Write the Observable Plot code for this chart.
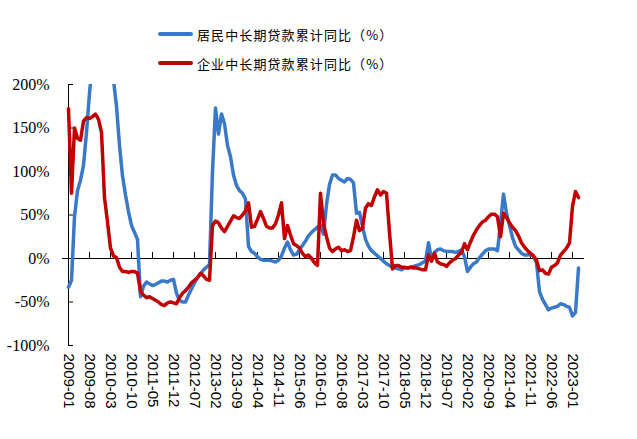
<!DOCTYPE html>
<html><head><meta charset="utf-8">
<script src="https://cdn.jsdelivr.net/npm/d3@7"></script>
<script src="https://cdn.jsdelivr.net/npm/@observablehq/plot@0.6"></script>
<style>
body{margin:0;background:#fff;}
#legend{position:relative;width:637px;height:75px;font-family:"Noto Sans CJK SC";font-size:13px;color:#000;}
.row{position:absolute;left:158px;display:flex;align-items:center;height:20px;letter-spacing:1.1px;}
.sw{width:35px;height:4px;border-radius:2px;margin-right:4px;}
#chart svg{display:block;}
</style></head><body>
<div id="legend"></div>
<div id="chart"></div>
<script>
const seriesNames = ["居民中长期贷款累计同比（%）", "企业中长期贷款累计同比（%）"];
const seriesColors = ["#3A78C8", "#C00000"];

// 2009-01 .. 2023-03, monthly, %
const household = [
-33,-25,48,78,90,107,145,190,225,260,290,300,300,280,250,205,175,130,95,73,
54,38,30,22,-44,-32,-27,-29,-31,-30,-28,-26,-26,-27,-25,-24,-40,-48,-50,-50,
-42,-35,-28,-22,-18,-13,-10,-7,100,173,143,166,155,130,117,96,84,78,75,68,
14,8,6,2,-1,-2,-2,-2,-3,-4,-2,3,12,19,10,4,5,10,15,20,
26,30,33,36,38,28,62,85,96,96,92,90,88,92,91,87,52,53,37,22,
14,9,6,3,0,-3,-6,-8,-10,-11,-12,-13,-11,-11,-10,-9,-8,-7,-5,-3,
18,-1,7,10,11,9,8,8,8,7,8,10,2,-15,-10,-6,-4,1,5,9,
11,11,11,9,40,74,52,38,24,14,10,6,4,4,5,3,-5,-38,-47,-53,
-59,-57,-56,-55,-52,-53,-55,-56,-66,-62,-11
];
const enterprise = [
172,75,150,138,136,158,162,161,163,166,160,145,70,42,12,3,1,-10,-15,-15,
-16,-15,-15,-17,-38,-42,-45,-44,-46,-48,-50,-53,-54,-51,-50,-51,-52,-45,-40,-37,
-33,-28,-25,-22,-17,-20,-24,-25,38,43,41,35,31,37,43,49,47,46,50,55,
64,36,37,45,54,46,37,35,35,40,50,64,23,38,27,17,15,12,6,2,
4,0,-5,-8,75,40,25,12,8,11,13,9,10,8,9,25,44,32,35,58,
63,61,71,79,73,77,75,30,-12,-8,-8,-10,-10,-11,-10,-11,-11,-12,-13,-13,
4,-3,6,-4,-6,-7,-9,-5,-2,0,4,7,17,10,19,27,33,38,42,44,
48,51,51,48,25,52,47,41,36,32,26,18,13,9,6,3,-2,-14,-13,-17,
-18,-10,-8,-5,4,8,12,18,60,77,70
];
const months = d3.utcMonths(new Date(Date.UTC(2009,0,1)), new Date(Date.UTC(2023,3,1))).map(d3.utcFormat("%Y-%m"));
const xTickLabels = ["2009-01","2009-08","2010-03","2010-10","2011-05","2011-12","2012-07","2013-02","2013-09","2014-04","2014-11","2015-06","2016-01","2016-08","2017-03","2017-10","2018-05","2018-12","2019-07","2020-02","2020-09","2021-04","2021-11","2022-06","2023-01"];
const yTicks = [-100, -50, 0, 50, 100, 150, 200];

const rows = [];
[household, enterprise].forEach((arr, s) => arr.forEach((v, i) => rows.push({month: months[i], value: v, series: seriesNames[s]})));

// legend
const lg = document.getElementById("legend");
seriesNames.forEach((n, i) => {
  const r = document.createElement("div");
  r.className = "row";
  r.style.top = (i === 0 ? 24 : 53) + "px";
  r.innerHTML = `<span class="sw" style="background:${seriesColors[i]}"></span><span>${n}</span>`;
  lg.appendChild(r);
});

const chart = Plot.plot({
  width: 637, height: 364,
  marginTop: 9, marginBottom: 94, marginLeft: 62, marginRight: 53,
  x: {type: "point", domain: months, padding: 0, axis: null, label: null},
  y: {domain: [-100, 200], axis: null, label: null},
  color: {domain: seriesNames, range: seriesColors},
  marks: [
    Plot.ruleY([0], {stroke: "#000", strokeWidth: 1}),
    Plot.ruleX([months[0]], {stroke: "#000", strokeWidth: 1}),
    Plot.ruleX(xTickLabels, {x: d => d, y1: () => 0, y2: () => 0, insetBottom: 6, stroke: "#000"}),
    Plot.ruleY(yTicks, {y: d => d, x1: () => months[0], x2: () => months[0], insetRight: -5, stroke: "#000"}),
    Plot.axisY(yTicks, {anchor: "left", tickSize: 0, tickPadding: 13, tickFormat: d => d + "%", fontSize: 16, fontFamily: "Liberation Serif", label: null}),
    Plot.axisX(xTickLabels, {anchor: "bottom", tickSize: 0, tickPadding: 8, tickRotate: 90, fontSize: 15, fontFamily: "Liberation Sans", label: null}),
    Plot.line(rows, {x: "month", y: "value", z: "series", stroke: "series", strokeWidth: 3.5, strokeLinejoin: "round", clip: true})
  ]
});
document.getElementById("chart").appendChild(chart);
</script>
</body></html>
